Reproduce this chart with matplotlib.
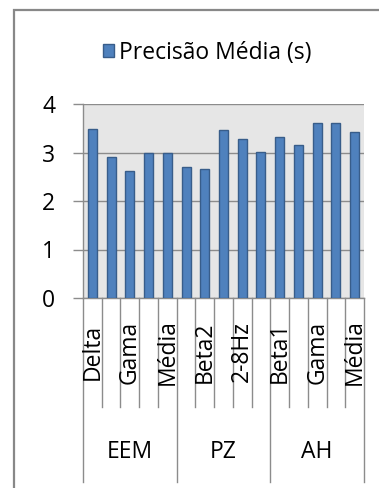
import matplotlib
matplotlib.use("Agg")
import matplotlib.pyplot as plt
from matplotlib.patches import Rectangle, Patch

# data
groups = ["EEM", "PZ", "AH"]
bands = ["Delta", "Teta", "Gama", "Beta", "Média",
         "Beta1", "Beta2", "Gama", "2-8Hz", "Média",
         "Beta1", "Beta2", "Gama", "2-8Hz", "Média"]
precisao = [3.48, 2.90, 2.61, 3.00, 3.00,
            2.70, 2.65, 3.46, 3.28, 3.02,
            3.31, 3.15, 3.60, 3.60, 3.42]
per_group = 5

W, H = 379, 488
fig = plt.figure(figsize=(W / 100, H / 100), dpi=100)
plt.rcParams["font.family"] = ["Open Sans", "DejaVu Sans"]

grey = "#8c8c8c"
fs = 16.5

# outer chart frame (runs off the right and bottom edge)
fig.add_artist(Rectangle((14 / W, -0.2), 1.5, 1.2 - 10 / H,
                         transform=fig.transFigure, fill=False,
                         edgecolor="#888888", lw=1.6))

ax = fig.add_axes([83 / W, (H - 298) / H, (364 - 83) / W, (298 - 104) / H])
ax.set_facecolor("#e6e6e6")

x = list(range(len(precisao)))
ax.bar(x, precisao, width=0.48, color="#4f81bd", edgecolor="#385d8a",
       linewidth=1, zorder=3)

ax.set_xlim(-0.5, len(precisao) - 0.5)
ax.set_ylim(0, 4)
ax.set_yticks([0, 1, 2, 3, 4])
ax.yaxis.grid(True, color=grey, lw=1, zorder=1)
ax.tick_params(axis="y", length=7, width=1, color=grey, pad=13, labelsize=fs)
ax.tick_params(axis="x", bottom=False, labelbottom=False)
for s in ["top", "right"]:
    ax.spines[s].set_visible(False)
for s in ["left", "bottom"]:
    ax.spines[s].set_color(grey)
    ax.spines[s].set_linewidth(1)

# two-level category axis drawn below the plot
tr = ax.get_xaxis_transform()
ph = 298 - 104
minor_bottom = -(407 - 298) / ph
major_bottom = -(482 - 298) / ph
for i in range(len(precisao) + 1):
    yb = major_bottom if i % per_group == 0 else minor_bottom
    ax.plot([i - 0.5, i - 0.5], [0, yb], color=grey, lw=1,
            transform=tr, clip_on=False)

for i, name in enumerate(bands):
    if i % 2 == 0:
        ax.text(i, -(352 - 298) / ph, name, rotation=90, ha="center",
                va="center", fontsize=fs, transform=tr)

for g, name in enumerate(groups):
    xc = g * per_group + (per_group - 1) / 2
    ax.text(xc, -(452 - 298) / ph, name, ha="center", va="center",
            fontsize=fs, transform=tr)

fig.legend(handles=[Patch(facecolor="#4f81bd", edgecolor="#385d8a")],
           labels=["Precisão Média (s)"], loc="center",
           bbox_to_anchor=(207 / W, 1 - 53 / H), frameon=False,
           fontsize=fs, handlelength=0.5, handleheight=0.5,
           handletextpad=0.2)

fig.savefig("out.png", dpi=100)
